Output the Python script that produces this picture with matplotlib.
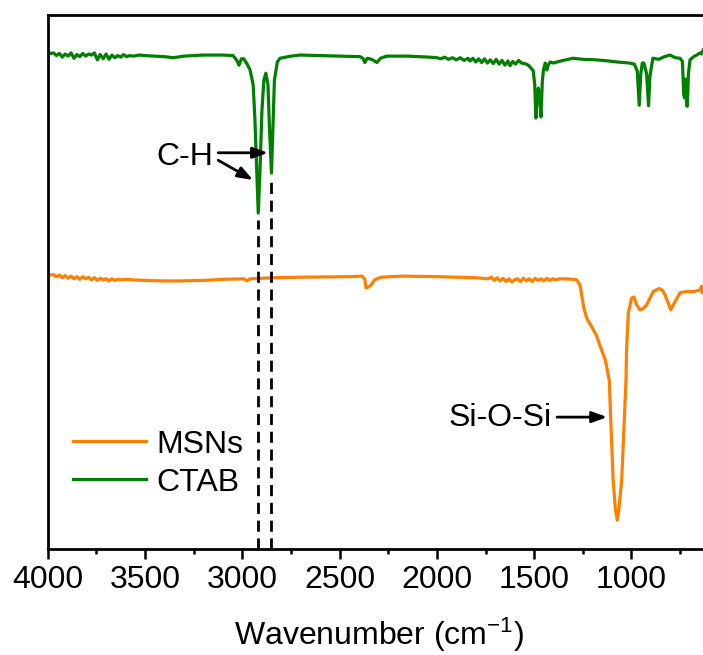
import matplotlib
matplotlib.use("Agg")
import matplotlib.pyplot as plt

plt.rcParams['font.family'] = ['Liberation Sans', 'DejaVu Sans']
plt.rcParams['mathtext.fontset'] = 'custom'
plt.rcParams['mathtext.rm'] = 'Liberation Sans'
plt.rcParams['mathtext.default'] = 'regular'

# ---- data ----
ctab_wn = [4000, 3985, 3970, 3955, 3940, 3925, 3910, 3895, 3880, 3865, 3850, 3835, 3820, 3805,
           3790, 3775, 3760, 3745, 3730, 3715, 3700, 3685, 3670, 3655, 3640, 3625, 3610, 3595,
           3580, 3560, 3530, 3500, 3450, 3400, 3356, 3300, 3200, 3100, 3048, 3030, 3017, 3005,
           2993, 2975, 2960, 2944, 2935, 2924, 2918, 2909, 2899, 2889, 2879, 2868, 2860, 2850,
           2843, 2835, 2820, 2806, 2750, 2703, 2600, 2500, 2395, 2380, 2370, 2358, 2345, 2330,
           2308, 2290, 2257, 2150, 2036, 2000, 1980, 1960, 1940, 1920, 1900, 1880, 1860, 1840,
           1830, 1815, 1800, 1785, 1770, 1755, 1740, 1725, 1710, 1695, 1680, 1665, 1650, 1635,
           1624, 1610, 1595, 1580, 1565, 1547, 1530, 1515, 1505, 1497, 1491, 1485, 1478, 1471,
           1465, 1458, 1452, 1443, 1435, 1428, 1418, 1400, 1383, 1350, 1300, 1250, 1180, 1120,
           1073, 1010, 985, 970, 960, 952, 944, 936, 922, 912, 905, 890, 860, 830, 802, 775,
           750, 738, 731, 727, 722, 716, 713, 707, 699, 680, 660, 648, 640, 632]
ctab_t = [93.0, 92.8, 92.9, 92.4, 92.8, 92.1, 92.7, 92.3, 92.9, 91.9, 92.6, 92.2, 92.8, 92.3,
          92.7, 92.5, 92.9, 91.6, 92.6, 91.8, 92.7, 91.7, 92.5, 92.0, 92.4, 92.1, 92.6, 92.2,
          92.4, 92.3, 92.5, 92.4, 92.3, 92.2, 92.0, 92.3, 92.5, 92.5, 92.4, 91.6, 90.6, 91.8,
          91.8, 90.8, 89.7, 86.9, 80.3, 69.2, 62.9, 71.0, 82.2, 87.8, 89.1, 86.9, 78.5, 70.4,
          78.5, 87.8, 91.2, 91.9, 92.3, 92.5, 92.4, 92.3, 92.2, 91.9, 91.1, 91.9, 91.8, 91.6,
          91.1, 91.9, 92.3, 92.3, 92.1, 92.0, 91.8, 92.1, 91.7, 92.0, 91.6, 92.0, 91.5, 91.9,
          91.4, 91.9, 91.2, 91.8, 91.1, 91.8, 91.0, 91.6, 90.9, 91.7, 90.8, 91.5, 90.6, 91.4,
          90.5, 91.3, 90.8, 91.5, 91.0, 90.9, 90.6, 90.0, 89.6, 87.0, 80.7, 84.5, 86.3, 84.0,
          80.9, 87.5, 89.8, 91.0, 89.7, 90.6, 91.2, 91.0, 91.2, 91.5, 91.9, 91.7, 91.6, 91.4,
          91.2, 91.0, 90.8, 89.5, 83.1, 89.0, 91.0, 91.0, 89.0, 83.0, 88.5, 91.9, 91.7, 92.2, 92.5, 92.0,
          91.9, 91.3, 85.0, 84.5, 88.0, 83.0, 82.9, 89.0, 91.6, 92.2, 92.6, 92.9, 92.7, 93.4]

msn_wn = [4000, 3985, 3970, 3955, 3940, 3925, 3910, 3895, 3880, 3865, 3850, 3835, 3820, 3805,
          3790, 3775, 3760, 3745, 3730, 3715, 3700, 3685, 3670, 3655, 3640, 3620, 3600, 3560,
          3500, 3400, 3330, 3200, 3100, 2993, 2976, 2960, 2900, 2837, 2700, 2446, 2385, 2370,
          2364, 2355, 2339, 2320, 2287, 2179, 2000, 1900, 1800, 1737, 1720, 1705, 1690, 1675,
          1660, 1645, 1630, 1614, 1600, 1585, 1570, 1555, 1540, 1525, 1510, 1495, 1480, 1465,
          1450, 1435, 1420, 1405, 1390, 1370, 1347, 1300, 1281, 1264, 1246, 1231, 1204, 1180,
          1160, 1134, 1114, 1104, 1094, 1082, 1073, 1065, 1050, 1028, 1025, 1016, 999, 987, 973,
          956, 940, 922, 888, 857, 840, 827, 798, 776, 750, 720, 682, 660, 648, 640, 636, 632]
msn_t = [51.5, 51.3, 51.4, 51.0, 51.3, 50.8, 51.2, 50.7, 51.1, 50.6, 51.0, 50.5, 51.0, 50.6,
         50.9, 50.4, 50.8, 50.3, 50.7, 50.4, 50.6, 50.2, 50.6, 50.3, 50.5, 50.4, 50.5, 50.4,
         50.3, 50.2, 50.2, 50.3, 50.5, 50.6, 50.2, 50.6, 50.7, 50.8, 50.9, 51.0, 51.1, 50.5,
         48.9, 49.0, 49.4, 50.4, 50.9, 51.1, 51.0, 50.9, 50.8, 50.6, 50.9, 50.3, 50.8, 50.2,
         50.7, 50.1, 50.6, 50.0, 50.4, 50.6, 50.1, 50.7, 50.2, 50.6, 50.1, 50.7, 50.3, 50.6,
         50.2, 50.7, 50.3, 50.6, 50.4, 50.6, 50.6, 50.5, 50.4, 49.4, 45.4, 43.3, 41.6, 40.0,
         37.9, 35.4, 31.6, 22.0, 12.9, 7.3, 5.4, 7.3, 12.9, 31.6, 37.3, 44.2, 47.0, 47.2, 45.7,
         44.8, 45.0, 45.7, 48.2, 48.8, 48.4, 47.6, 44.8, 46.3, 48.0, 48.2, 48.2, 48.4, 48.5, 49.2, 48.0, 48.9]

ch_peaks = [2918, 2850]
ch_tops = [61.6, 69.1]

xticks = [4000, 3500, 3000, 2500, 2000, 1500, 1000]

orange = '#FF8000'
green = '#008000'

fig = plt.figure(figsize=(7.03, 6.55), dpi=100)
ax = fig.add_axes([0.0679, 0.1618, 0.941, 0.8153])

ax.plot(msn_wn, msn_t, color=orange, lw=2.3, label='MSNs')
ax.plot(ctab_wn, ctab_t, color=green, lw=2.3, label='CTAB')

for wn, top in zip(ch_peaks, ch_tops):
    ax.plot([wn, wn], [0, top], color='black', lw=2.0, ls=(0, (4, 2.4)))

arrow_kw = dict(arrowstyle='-|>,head_length=0.9,head_width=0.33', color='black', lw=2.0,
                shrinkA=0, shrinkB=0)
ax.annotate('', xy=(2868, 74.2), xytext=(3124, 74.2), arrowprops=arrow_kw)
ax.annotate('', xy=(2945, 69.1), xytext=(3124, 72.8), arrowprops=arrow_kw)
ax.text(3150, 73.4, 'C-H', fontsize=23, ha='right', va='center')

ax.annotate('', xy=(1125, 24.7), xytext=(1382, 24.7), arrowprops=arrow_kw)
ax.text(1408, 24.6, 'Si-O-Si', fontsize=23, ha='right', va='center')

ax.set_xlim(4000, 600)
ax.set_ylim(0, 100)
ax.set_xticks(xticks)
ax.set_xticks([3750, 3250, 2750, 2250, 1750, 1250, 750], minor=True)
ax.set_yticks([])
ax.tick_params(axis='x', which='major', direction='out', length=7.2, width=1.8,
               labelsize=23, pad=4)
ax.tick_params(axis='x', which='minor', direction='out', length=3.6, width=1.8)
for s in ax.spines.values():
    s.set_linewidth(2.0)

ax.set_xlabel('Wavenumber (cm$^{-1}$)', fontsize=23, labelpad=15)

leg = ax.legend(loc='center left', bbox_to_anchor=(0.038, 0.160), frameon=False,
                fontsize=23, handlelength=2.3, handletextpad=0.3, borderpad=0,
                borderaxespad=0, labelspacing=0.25)

fig.savefig('out.png', dpi=100)
